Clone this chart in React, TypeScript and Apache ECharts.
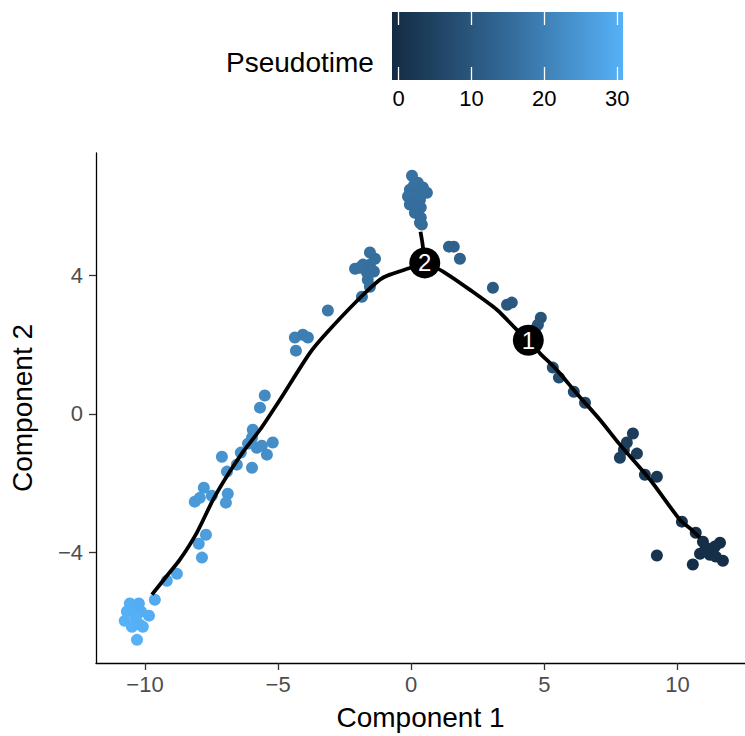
import React, { useEffect, useRef } from 'react';
import * as echarts from 'echarts';

// Cells: Component 1, Component 2, Pseudotime
const pointX = [
  -10.57, -10.23, -10.68, -10.42, -10.15, -9.85, -10.76, -10.34, -10.08, -10.3, -10.19, -10.49,
  -9.63, -9.18, -8.8, -7.98, -7.86, -7.71,
  -8.13, -7.79, -7.49, -7.94, -6.89, -6.96, -7.11, -6.92, -6.55, -6.4, -5.98, -5.8, -5.98, -5.95,
  -5.42, -5.2, -5.61, -6.13, -5.68, -5.5,
  -4.33, -4.37, -4.07, -3.88, -3.13, -1.85, -1.55, -1.63, -2.11, -1.81, -1.66, -1.4, -1.55, -1.36,
  -1.93, -1.55,
  0.03, 0.25, 0.44, -0.05, 0.59, -0.12, 0.18, 0.33, -0.05, 0.36, 0.14, 0.36, 0.33, 0.4, 0.1, 0.1, 0.25,
  1.42, 1.6, 1.83, 3.07, 3.6, 3.78, 4.87, 4.76, 4.65,
  5.32, 5.55, 6.11, 6.53, 8.33, 8.1, 8.48, 7.84, 7.99, 8.78, 9.23,
  10.17, 10.69, 10.96, 11.6, 11.3, 10.85, 11.71, 10.58, 9.23, 11.22, 11.41, 11.07, 11.44,
];
const pointY = [
  -5.49, -5.49, -5.72, -5.72, -5.72, -5.84, -5.99, -5.9, -6.16, -6.54, -6.1, -6.16,
  -5.38, -4.83, -4.63, -3.76, -4.16, -3.5,
  -2.54, -2.14, -2.37, -2.43, -2.31, -2.57, -1.24, -1.67, -1.47, -1.12, -1.56, -0.98, -0.69, -0.46,
  -1.18, -0.83, -0.92, -0.86, 0.18, 0.53,
  1.83, 2.21, 2.29, 2.21, 2.99, 3.39, 3.68, 3.88, 4.2, 4.32, 4.09, 4.12, 4.67, 4.49,
  4.23, 4.32,
  6.89, 6.69, 6.55, 6.49, 6.4, 6.29, 6.2, 6.2, 6.06, 5.97, 5.82, 5.68, 5.53, 5.48, 6.61, 6.43, 6.35,
  4.84, 4.84, 4.49, 3.65, 3.16, 3.22, 2.78, 2.58, 2.44,
  1.34, 1.05, 0.64, 0.32, -0.57, -0.83, -1.15, -1.27, -1.04, -1.76, -1.82,
  -3.12, -3.44, -3.7, -3.73, -3.93, -4.05, -4.25, -4.36, -4.1, -4.08, -3.84, -3.87, -4.13,
];
const pseudotime = [
  30.3, 30.0, 30.5, 30.4, 30.2, 30.0, 30.8, 30.5, 30.5, 30.8, 30.6, 30.7,
  29.4, 28.5, 28.2, 26.9, 27.1, 26.6,
  26.0, 25.5, 25.5, 25.8, 25.0, 25.2, 24.3, 24.5, 24.2, 23.7, 23.8, 23.2, 23.2, 22.9,
  23.1, 22.7, 23.0, 23.3, 22.5, 22.2,
  20.2, 20.0, 19.7, 19.5, 18.4, 16.6, 16.2, 16.2, 16.7, 16.4, 16.3, 16.1, 16.2, 16.0,
  16.5, 16.2,
  16.8, 16.6, 16.4, 16.4, 16.3, 16.2, 16.1, 16.1, 15.9, 15.8, 15.7, 15.5, 15.3, 15.3, 16.5, 16.3, 16.2,
  13.0, 12.8, 12.6, 11.1, 10.5, 10.3, 9.5, 9.4, 9.3,
  8.0, 7.6, 6.8, 6.2, 3.6, 4.0, 3.4, 4.3, 4.1, 3.0, 2.7,
  1.0, 0.3, 0.2, 0.0, 0.0, 0.1, 0.0, 0.2, 1.0, 0.0, 0.0, 0.1, 0.0,
];

// Principal graph (trajectory) branches
const branchLeft = [
  [0.51, 4.37], [-0.05, 4.22], [-0.8, 4.03], [-1.18, 3.88], [-2.05, 3.26], [-3.18, 2.34],
  [-3.81, 1.76], [-4.93, 0.41], [-5.68, -0.46], [-6.31, -1.09], [-6.93, -1.81],
  [-7.44, -2.48], [-8.06, -3.45], [-8.69, -4.22], [-9.19, -4.7], [-9.74, -5.23],
];
const branchTop = [[0.51, 4.37], [0.42, 4.95], [0.35, 5.27]];
const branchRight = [
  [0.51, 4.37], [1.2, 4.12], [2.21, 3.59], [3.21, 3.02], [3.96, 2.44], [4.4, 2.13], [4.83, 1.76],
  [5.46, 1.28], [6.21, 0.6], [7.09, -0.17], [7.84, -0.89], [8.97, -1.9], [10.09, -3.06],
  [10.53, -3.35], [10.84, -3.58],
];

// Branch points
const nodeLabels = ['1', '2'];
const nodeX = [4.4, 0.51];
const nodeY = [2.13, 4.37];

const xTicks = [-10, -5, 0, 5, 10];
const yTicks = [-4, 0, 4];
const legendTicks = [0, 10, 20, 30];
const ptMin = -0.9;
const ptMax = 30.8;
const gradColors = ['#132B43', '#336A98', '#56B1F7'];

export default function App() {
  const ref = useRef<HTMLDivElement>(null);
  useEffect(() => {
    if (!ref.current) return;
    const chart = echarts.init(ref.current, null, { renderer: 'svg' });
    const font = '"Liberation Sans", Arial, Helvetica, sans-serif';
    const fmt = (v: number) => (v < 0 ? '\u2212' + Math.abs(v) : String(v));
    const gradient = new echarts.graphic.LinearGradient(0, 0, 1, 0, [
      { offset: 0, color: gradColors[0] },
      { offset: 0.5, color: gradColors[1] },
      { offset: 1, color: gradColors[2] },
    ]);
    const points = pointX.map((x, i) => [x, pointY[i], pseudotime[i]]);
    const nodes = nodeX.map((x, i) => [x, nodeY[i], nodeLabels[i]]);
    const lineSeries = (data: number[][]) => ({
      type: 'line',
      data,
      xAxisIndex: 0,
      yAxisIndex: 0,
      symbol: 'none',
      showSymbol: false,
      smooth: 0.25,
      lineStyle: { color: '#000', width: 3.8 },
      z: 3,
      silent: true,
    });
    const legendTickStyle = {
      show: true,
      inside: true,
      length: 13,
      lineStyle: { color: '#fff', width: 1.3 },
      customValues: legendTicks,
    };
    chart.setOption({
      animation: false,
      backgroundColor: '#fff',
      textStyle: { fontFamily: font },
      grid: [
        { left: 96, right: 0, top: 153, bottom: 73 },
        { left: 392, top: 12, width: 231, height: 68, show: true, backgroundColor: gradient, borderWidth: 0 },
      ],
      xAxis: [
        {
          gridIndex: 0,
          type: 'value',
          min: -11.84,
          max: 12.54,
          name: 'Component 1',
          nameLocation: 'middle',
          nameGap: 40,
          nameTextStyle: { fontSize: 28, color: '#000', fontFamily: font },
          axisLine: { show: true, onZero: false, lineStyle: { color: '#000', width: 1.3 } },
          axisTick: { show: true, length: 7, lineStyle: { color: '#333', width: 1.3 }, customValues: xTicks },
          axisLabel: { customValues: xTicks, formatter: fmt, fontSize: 22, color: '#4D4D4D', fontFamily: font, margin: 10 },
          splitLine: { show: false },
        },
        {
          gridIndex: 1,
          type: 'value',
          min: ptMin,
          max: ptMax,
          position: 'bottom',
          axisLine: { show: false },
          axisTick: legendTickStyle,
          axisLabel: { customValues: legendTicks, fontSize: 22, color: '#000', fontFamily: font, margin: 7 },
          splitLine: { show: false },
        },
        {
          gridIndex: 1,
          type: 'value',
          min: ptMin,
          max: ptMax,
          position: 'top',
          axisLine: { show: false },
          axisTick: legendTickStyle,
          axisLabel: { show: false },
          splitLine: { show: false },
        },
      ],
      yAxis: [
        {
          gridIndex: 0,
          type: 'value',
          min: -7.21,
          max: 7.55,
          name: 'Component 2',
          nameLocation: 'middle',
          nameRotate: 90,
          nameGap: 60,
          nameTextStyle: { fontSize: 28, color: '#000', fontFamily: font },
          axisLine: { show: true, onZero: false, lineStyle: { color: '#000', width: 1.3 } },
          axisTick: { show: true, length: 7, lineStyle: { color: '#333', width: 1.3 }, customValues: yTicks },
          axisLabel: { customValues: yTicks, formatter: fmt, fontSize: 22, color: '#4D4D4D', fontFamily: font, margin: 13 },
          splitLine: { show: false },
        },
        { gridIndex: 1, type: 'value', min: 0, max: 1, show: false },
      ],
      visualMap: {
        type: 'continuous',
        show: false,
        seriesIndex: 0,
        dimension: 2,
        min: ptMin,
        max: ptMax,
        inRange: { color: gradColors },
      },
      graphic: [
        {
          type: 'text',
          x: 226,
          y: 62,
          style: {
            text: 'Pseudotime',
            fontSize: 28,
            fontFamily: font,
            fill: '#000',
            align: 'left',
            verticalAlign: 'middle',
          },
        },
      ],
      series: [
        {
          type: 'scatter',
          data: points,
          xAxisIndex: 0,
          yAxisIndex: 0,
          symbolSize: 12,
          itemStyle: { opacity: 1 },
          z: 2,
          silent: true,
        },
        lineSeries(branchLeft),
        lineSeries(branchTop),
        lineSeries(branchRight),
        {
          type: 'scatter',
          data: nodes,
          xAxisIndex: 0,
          yAxisIndex: 0,
          symbolSize: 31,
          itemStyle: { color: '#000', opacity: 1 },
          label: {
            show: true,
            position: 'inside',
            formatter: (p: any) => p.value[2],
            color: '#fff',
            fontSize: 24,
            fontFamily: font,
          },
          z: 4,
          silent: true,
        },
      ],
    });
    return () => chart.dispose();
  }, []);
  return (
    <div
      ref={ref}
      style={{ position: 'fixed', left: 0, top: 0, width: 745, height: 736, background: '#fff' }}
    />
  );
}
